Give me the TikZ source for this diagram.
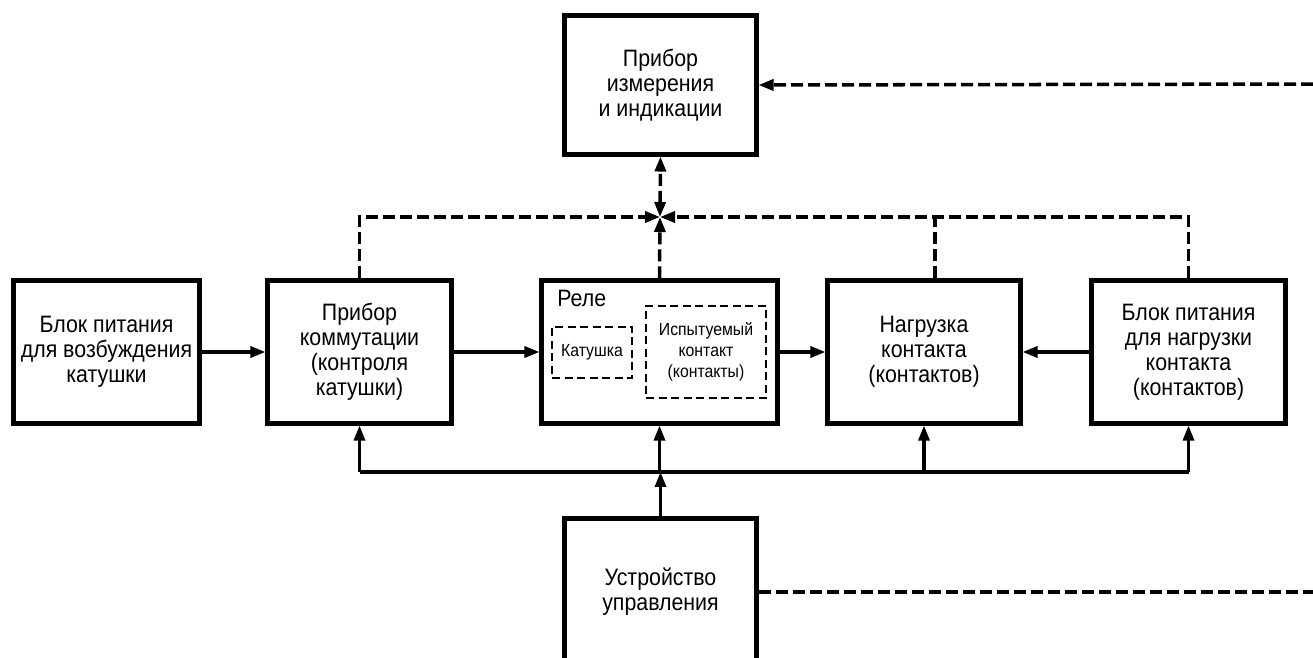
\documentclass[tikz,border=0pt]{standalone}
\usepackage{fontspec}
\setmainfont{Liberation Sans}[FakeStretch=0.9]
\usetikzlibrary{arrows.meta}

\begin{document}
\begin{tikzpicture}[x=0.2mm,y=-0.2mm,
  block/.style={draw, line width=2.3pt, align=center, inner sep=0pt, font=\fontsize{13.5}{14.2}\selectfont},
  inbox/.style={draw, line width=1.2pt, dash pattern=on 1.6mm off 0.9mm, align=center, inner sep=0pt, font=\fontsize{10}{12}\selectfont},
  arr/.style={line width=1.8pt, -{Triangle[length=3mm,width=2.2mm]}},
  link/.style={line width=1.8pt},
  dline/.style={line width=2pt, dash pattern=on 2.4mm off 1mm}]
  \useasboundingbox (0,0) rectangle (1313,658);

  \node[block, minimum width=38.4mm, minimum height=27.8mm] (meas) at (660.5,85) {Прибор\\измерения\\и индикации};
  \node[block, minimum width=37.2mm, minimum height=28.6mm] (coilpsu) at (106.5,352) {Блок питания\\для возбуждения\\катушки};
  \node[block, minimum width=36.8mm, minimum height=28.6mm] (switch) at (359.5,352) {Прибор\\коммутации\\(контроля\\катушки)};
  \node[block, minimum width=47.2mm, minimum height=28.6mm] (relay) at (659.5,352) {};
  \node[block, minimum width=38.6mm, minimum height=28.6mm] (load) at (924,352) {Нагрузка\\контакта\\(контактов)};
  \node[block, minimum width=38.8mm, minimum height=28.6mm] (loadpsu) at (1188.5,352) {Блок питания\\для нагрузки\\контакта\\(контактов)};
  \node[block, minimum width=38.4mm, minimum height=29.4mm] (ctrl) at (660.5,592) {Устройство\\управления};

  \node[anchor=base west, inner sep=0pt, font=\fontsize{13.5}{14.2}\selectfont] (relaytitle) at (557,307) {Реле};
  \node[inbox, minimum width=16mm, minimum height=10.2mm] (coil) at (592,352.5) {Катушка};
  \node[inbox, minimum width=24mm, minimum height=18.4mm] (contact) at (706,352) {Испытуемый\\контакт\\(контакты)};

  \coordinate (junc) at (660,217);
  \coordinate (bus) at (0,472);
  \coordinate (loadtop) at ([xshift=2.2mm]load.north);
  \coordinate (edgetop) at (1330,84);
  \coordinate (edgebot) at (1330,590);

  \draw[arr] (coilpsu.east) -- (switch.west);
  \draw[arr] (switch.east) -- (relay.west);
  \draw[arr] (relay.east) -- (load.west);
  \draw[arr] (loadpsu.west) -- (load.east);

  \draw[link] (switch.south |- bus) -- (loadpsu.south |- bus);
  \draw[arr] (switch.south |- bus) -- (switch.south);
  \draw[arr] (relay.south |- bus) -- (relay.south);
  \draw[arr] (load.south |- bus) -- (load.south);
  \draw[arr] (loadpsu.south |- bus) -- (loadpsu.south);
  \draw[arr] (ctrl.north) -- (ctrl.north |- bus);

  \draw[dline, -{Triangle[length=3mm,width=2.2mm]}] (switch.north) |- (junc);
  \draw[dline, -{Triangle[length=3mm,width=2.2mm]}] (loadpsu.north) |- (junc);
  \draw[dline] (loadtop) -- (loadtop |- junc);
  \draw[dline, -{Triangle[length=3mm,width=2.2mm]}] (relay.north) -- (junc);
  \draw[dline, {Triangle[length=3mm,width=2.2mm]}-{Triangle[length=3mm,width=2.2mm]}] (junc) -- (meas.south);
  \draw[dline, -{Triangle[length=3mm,width=2.2mm]}] (edgetop) -- (meas.east);
  \draw[dline] (ctrl.east) -- (edgebot |- ctrl.east);
\end{tikzpicture}
\end{document}
